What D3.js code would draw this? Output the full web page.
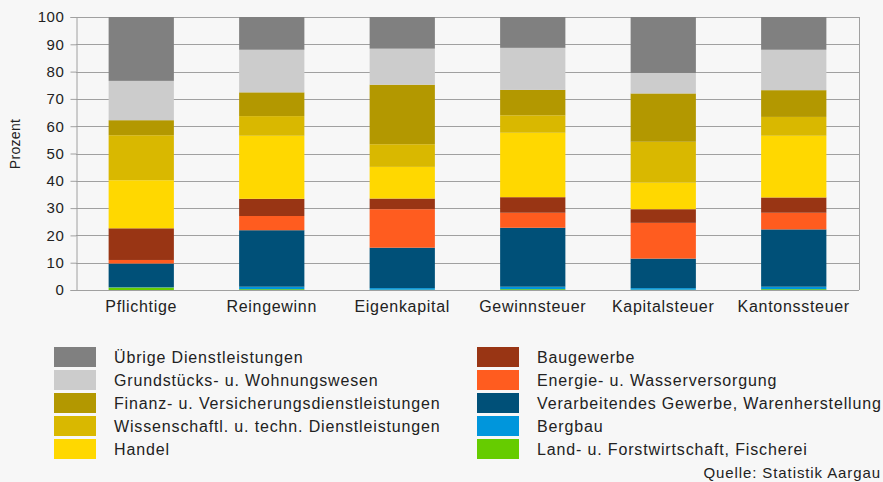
<!DOCTYPE html>
<html>
<head>
<meta charset="utf-8">
<script src="https://cdn.jsdelivr.net/npm/d3@7"></script>
<style>
  html, body { margin: 0; padding: 0; background: #f7f7f7; }
  svg { display: block; font-family: "Liberation Sans", Arial, sans-serif; }
</style>
</head>
<body>
<svg id="chart" width="883" height="482"></svg>
<script>
// categories on the x axis
var categories = ["Pflichtige", "Reingewinn", "Eigenkapital", "Gewinnsteuer", "Kapitalsteuer", "Kantonssteuer"];

// sectors, bottom of the stack first
var sectors = [
  "Land- u. Forstwirtschaft, Fischerei",
  "Bergbau",
  "Verarbeitendes Gewerbe, Warenherstellung",
  "Energie- u. Wasserversorgung",
  "Baugewerbe",
  "Handel",
  "Wissenschaftl. u. techn. Dienstleistungen",
  "Finanz- u. Versicherungsdienstleistungen",
  "Grundstücks- u. Wohnungswesen",
  "Übrige Dienstleistungen"
];

var colors = ["#66cc00", "#0096dc", "#005078", "#ff5c1f", "#993514",
              "#ffd800", "#d9b800", "#b39800", "#cccccc", "#808080"];

// percent shares per sector, one value per category
var landwirtschaft   = [0.9, 0.3, 0.1, 0.3, 0.1, 0.3];
var bergbau          = [0.1, 0.9, 0.6, 0.9, 0.6, 0.9];
var verarbeitendes   = [8.7, 20.7, 14.8, 21.6, 10.8, 21.0];
var energie          = [1.3, 5.2, 14.1, 5.5, 13.1, 6.1];
var baugewerbe       = [11.6, 6.3, 3.9, 5.7, 5.0, 5.6];
var handel           = [17.6, 23.1, 11.6, 23.6, 9.7, 22.6];
var wissenschaftl    = [16.5, 7.2, 8.3, 6.4, 15.0, 6.9];
var finanz           = [5.5, 8.7, 21.8, 9.3, 17.7, 9.8];
var grundstuecke     = [14.4, 15.6, 13.2, 15.4, 7.5, 14.8];
var uebrige          = [23.4, 12.0, 11.6, 11.3, 20.5, 12.0];

var yTicks = [0, 10, 20, 30, 40, 50, 60, 70, 80, 90, 100];

var seriesValues = [landwirtschaft, bergbau, verarbeitendes, energie, baugewerbe,
                    handel, wissenschaftl, finanz, grundstuecke, uebrige];

// legend layout: left column and right column (top to bottom)
var legendLeft = [9, 8, 7, 6, 5];
var legendRight = [4, 3, 2, 1, 0];

var svg = d3.select("#chart");
var plot = {left: 76, right: 859, top: 17, bottom: 290};

// build table for the stack
var table = categories.map(function(c, i){
  var row = {category: c};
  sectors.forEach(function(s, j){ row[s] = seriesValues[j][i]; });
  return row;
});
var stacked = d3.stack().keys(sectors)(table);

var x = d3.scaleBand()
  .domain(categories)
  .range([plot.left, plot.right])
  .paddingInner(0.5)
  .paddingOuter(0.25);

var y = d3.scaleLinear()
  .domain([0, 100])
  .range([plot.bottom, plot.top]);

// grid lines
svg.append("g")
  .selectAll("line")
  .data(yTicks)
  .enter()
  .append("line")
  .attr("x1", plot.left)
  .attr("x2", plot.right)
  .attr("y1", function(d){ return Math.round(y(d)) + 0.5; })
  .attr("y2", function(d){ return Math.round(y(d)) + 0.5; })
  .attr("stroke", "#a0a0a0")
  .attr("stroke-width", 1);

// right border
svg.append("line")
  .attr("x1", plot.right + 0.5).attr("x2", plot.right + 0.5)
  .attr("y1", plot.top).attr("y2", plot.bottom)
  .attr("stroke", "#a0a0a0");

// bars
svg.append("g")
  .selectAll("g")
  .data(stacked)
  .enter()
  .append("g")
  .attr("fill", function(d, i){ return colors[i]; })
  .selectAll("rect")
  .data(function(d){ return d; })
  .enter()
  .append("rect")
  .attr("x", function(d){ return x(d.data.category); })
  .attr("width", x.bandwidth())
  .attr("y", function(d){ return y(d[1]); })
  .attr("height", function(d){ return y(d[0]) - y(d[1]); });

// y axis
var yAxis = d3.axisLeft(y).tickValues(yTicks).tickSize(6).tickPadding(6);
var yG = svg.append("g")
  .attr("transform", "translate(" + (plot.left + 0.5) + ",0)")
  .call(yAxis);
yG.select(".domain").attr("stroke", "#a0a0a0");
yG.selectAll(".tick line").attr("stroke", "#a0a0a0");
yG.selectAll(".tick text")
  .attr("font-family", "Liberation Sans, Arial, sans-serif")
  .attr("font-size", 15)
  .attr("letter-spacing", 0.6)
  .attr("fill", "#222");

// x axis labels
var xAxis = d3.axisBottom(x).tickSize(0).tickPadding(11);
var xG = svg.append("g")
  .attr("transform", "translate(0," + plot.bottom + ")")
  .call(xAxis);
xG.select(".domain").remove();
xG.selectAll(".tick text")
  .attr("font-family", "Liberation Sans, Arial, sans-serif")
  .attr("font-size", 16)
  .attr("letter-spacing", 0.7)
  .attr("fill", "#222");

// y axis title
svg.append("text")
  .attr("transform", "translate(20,144) rotate(-90)")
  .attr("text-anchor", "middle")
  .attr("font-size", 14)
  .attr("letter-spacing", 0.3)
  .attr("fill", "#222")
  .text("Prozent");

// legend
function drawLegend(list, sx, tx){
  var g = svg.append("g");
  var rows = g.selectAll("g")
    .data(list)
    .enter()
    .append("g")
    .attr("transform", function(d, i){ return "translate(0," + (347 + i * 23) + ")"; });
  rows.append("rect")
    .attr("x", sx)
    .attr("width", 42)
    .attr("height", 20)
    .attr("fill", function(d){ return colors[d]; });
  rows.append("text")
    .attr("x", tx)
    .attr("y", 15.5)
    .attr("font-size", 16)
    .attr("letter-spacing", 0.85)
    .attr("fill", "#222")
    .text(function(d){ return sectors[d]; });
}
drawLegend(legendLeft, 54, 114);
drawLegend(legendRight, 477, 537);

// source
svg.append("text")
  .attr("x", 881)
  .attr("y", 478)
  .attr("text-anchor", "end")
  .attr("font-size", 15)
  .attr("letter-spacing", 0.9)
  .attr("fill", "#222")
  .text("Quelle: Statistik Aargau");
</script>
</body>
</html>
